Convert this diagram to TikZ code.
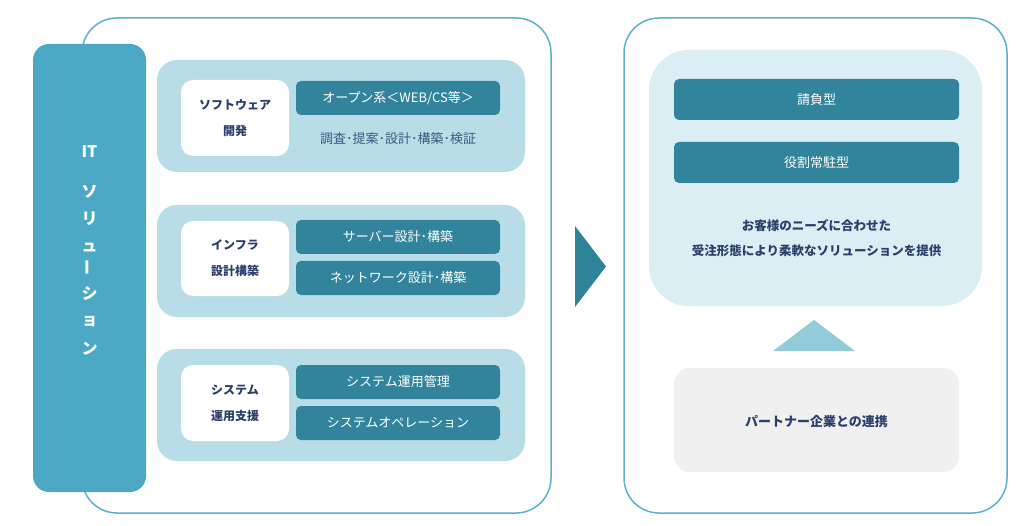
\documentclass[tikz,border=0pt]{standalone}
\usepackage{fontspec}
\setmainfont{Noto Sans CJK JP}
\definecolor{frame}{HTML}{5BB3CB}
\definecolor{itbar}{HTML}{4BA9C5}
\definecolor{grp}{HTML}{B8DDE6}
\definecolor{dark}{HTML}{31849B}
\definecolor{navy}{HTML}{2B3F6B}
\definecolor{subt}{HTML}{3D5A80}
\definecolor{lite}{HTML}{DAEEF4}
\definecolor{tri}{HTML}{92CBDA}
\definecolor{gray}{HTML}{F0F0F0}
\definecolor{arrowc}{HTML}{2E8397}
\tikzset{
  outer/.style={draw=frame,line width=1.5pt,fill=white,rounded corners=35pt},
  group/.style={fill=grp,rounded corners=20pt},
  lbl/.style={fill=white,rounded corners=12pt},
  darkbox/.style={fill=dark,rounded corners=5pt},
  wtxt/.style={text=white,font=\fontsize{13}{15}\selectfont,inner sep=0pt},
  ntxt/.style={text=navy,font=\bfseries\fontsize{12.5}{25}\selectfont,align=center,inner sep=0pt},
  vtxt/.style={text=white,font=\bfseries\fontsize{16}{18}\selectfont,inner sep=0pt}
}
\begin{document}
\begin{tikzpicture}[x=1pt,y=-1pt]
\useasboundingbox (0,0) rectangle (1024,526);
% left frame
\draw[outer] (82,18) rectangle (551,513);
\fill[itbar,rounded corners=16pt] (33,44) rectangle (146,492);
\node[vtxt] (it) at (89.5,152) {IT};
\node[vtxt] (c1) at (89.5,192) {ソ};
\node[vtxt] (c2) at (89.5,219) {リ};
\node[vtxt] (c3) at (89.5,247) {ュ};
\node[vtxt,rotate=90] (c4) at (89.5,268) {ー};
\node[vtxt] (c5) at (89.5,294) {シ};
\node[vtxt] (c6) at (89.5,322) {ョ};
\node[vtxt] (c7) at (89.5,349) {ン};
% group 1
\fill[group] (157,60) rectangle (525,172);
\fill[lbl] (181,80) rectangle (289,156);
\node[ntxt,font=\bfseries\fontsize{12}{26}\selectfont] (g1) at (235,118) {ソフトウェア\\開発};
\fill[darkbox] (296,81) rectangle (500,115);
\node[wtxt] (g1a) at (398,98) {オープン系＜WEB/CS等＞};
\node[wtxt,text=subt] (g1b) at (398,139) {調査･提案･設計･構築･検証};
% group 2
\fill[group] (157,205) rectangle (525,317);
\fill[lbl] (181,221) rectangle (289,296);
\node[ntxt,font=\bfseries\fontsize{12}{26}\selectfont] (g2) at (235,258.5) {インフラ\\設計構築};
\fill[darkbox] (296,220) rectangle (500,254);
\node[wtxt] (g2a) at (398,237) {サーバー設計･構築};
\fill[darkbox] (296,261) rectangle (500,295);
\node[wtxt] (g2b) at (398,278) {ネットワーク設計･構築};
% group 3
\fill[group] (157,349) rectangle (525,461);
\fill[lbl] (181,365) rectangle (289,441);
\node[ntxt,font=\bfseries\fontsize{12}{26}\selectfont] (g3) at (235,403) {システム\\運用支援};
\fill[darkbox] (296,365) rectangle (500,399);
\node[wtxt] (g3a) at (398,382) {システム運用管理};
\fill[darkbox] (296,406) rectangle (500,440);
\node[wtxt] (g3b) at (398,423) {システムオペレーション};
% arrow
\fill[arrowc] (575,226) -- (606,266.5) -- (575,307) -- cycle;
% right frame
\draw[outer] (624,18) rectangle (1007,513);
\fill[lite,rounded corners=40pt] (649,50) rectangle (982,306);
\fill[darkbox] (674,79) rectangle (959,120);
\node[wtxt] (r1) at (816.5,99.5) {請負型};
\fill[darkbox] (674,142) rectangle (959,183);
\node[wtxt] (r2) at (816.5,162.5) {役割常駐型};
\node[ntxt] (rt) at (816.5,238) {お客様のニーズに合わせた\\受注形態により柔軟なソリューションを提供};
\fill[tri] (773,351) -- (814,320) -- (855,351) -- cycle;
\fill[gray,rounded corners=16pt] (674,368) rectangle (959,472);
\node[ntxt,font=\bfseries\fontsize{13}{15}\selectfont] (p) at (816.5,422) {パートナー企業との連携};
\end{tikzpicture}
\end{document}
